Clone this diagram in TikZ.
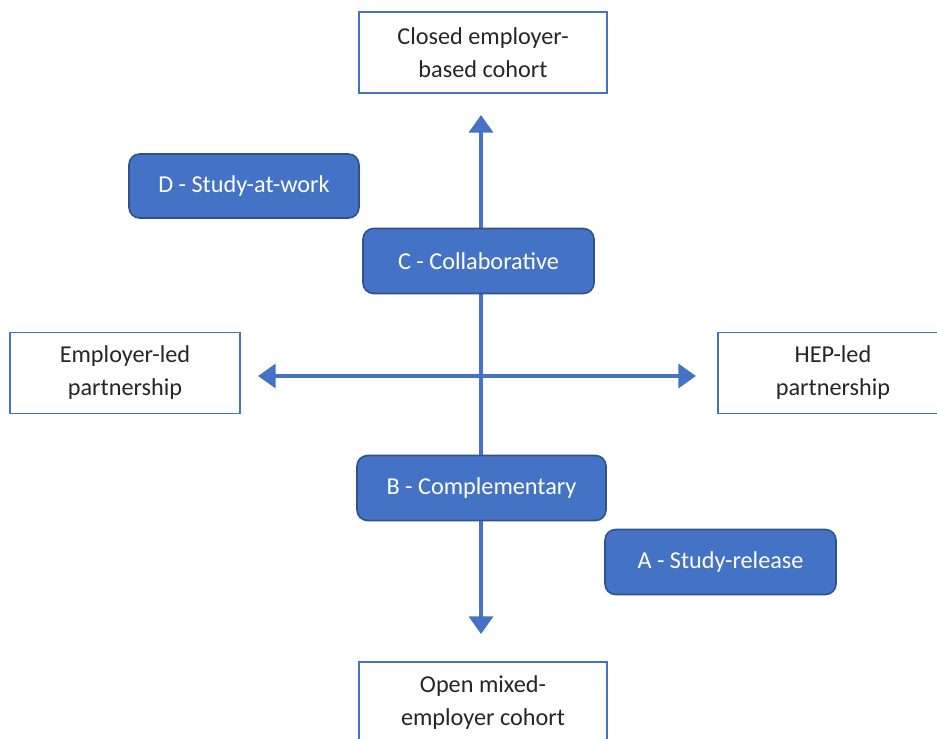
\documentclass[tikz,border=0pt]{standalone}
\usepackage{fontspec}
\setmainfont{Carlito}
\usepackage{tikz}
\usetikzlibrary{arrows.meta}

\definecolor{axisblue}{HTML}{4472C4}
\definecolor{edgeblue}{HTML}{2F528F}

\tikzset{
  pole/.style={draw=axisblue, line width=0.8pt, fill=white, align=center,
    text=black!85, inner sep=0pt, minimum height=81*0.02cm},
  model/.style={draw=edgeblue, line width=0.9pt, fill=axisblue, rounded corners=6pt,
    text=white, inner sep=0pt, minimum height=65*0.02cm},
  axis/.style={draw=axisblue, line width=2.3pt,
    {Triangle[width=13.5pt,length=10pt]}-{Triangle[width=13.5pt,length=10pt]}}
}

\begin{document}
\begin{tikzpicture}[x=0.02cm, y=-0.02cm, font=\fontsize{13.8}{18.8}\selectfont]
    \useasboundingbox (0,0) rectangle (937,738);
    \clip (0,0) rectangle (937,738);
    % ends of the two axes
    \coordinate (up) at (481,115);
    \coordinate (down) at (481,634);
    \coordinate (left) at (258,376);
    \coordinate (right) at (696,376);
    \draw[axis] (up) -- (down);
    \draw[axis] (left) -- (right);
    % four poles
    \node[pole, minimum width=248*0.02cm] (closed) at (483,52.5) {Closed employer-\\based cohort};
    \node[pole, minimum width=230*0.02cm] (employer) at (125,373) {Employer-led\\partnership};
    \node[pole, minimum width=230*0.02cm] (hep) at (833,373) {HEP-led\\partnership};
    \node[pole, minimum width=248*0.02cm] (open) at (483,702.5) {Open mixed-\\employer cohort};
    % the models
    \node[model, minimum width=230*0.02cm, minimum height=64*0.02cm] (D) at (244,186) {D - Study-at-work};
    \node[model, minimum width=231*0.02cm] (C) at (478.5,261) {C - Collaborative};
    \node[model, minimum width=249*0.02cm] (B) at (481.5,488) {B - Complementary};
    \node[model, minimum width=231*0.02cm] (A) at (720.5,562) {A - Study-release};
\end{tikzpicture}
\end{document}
